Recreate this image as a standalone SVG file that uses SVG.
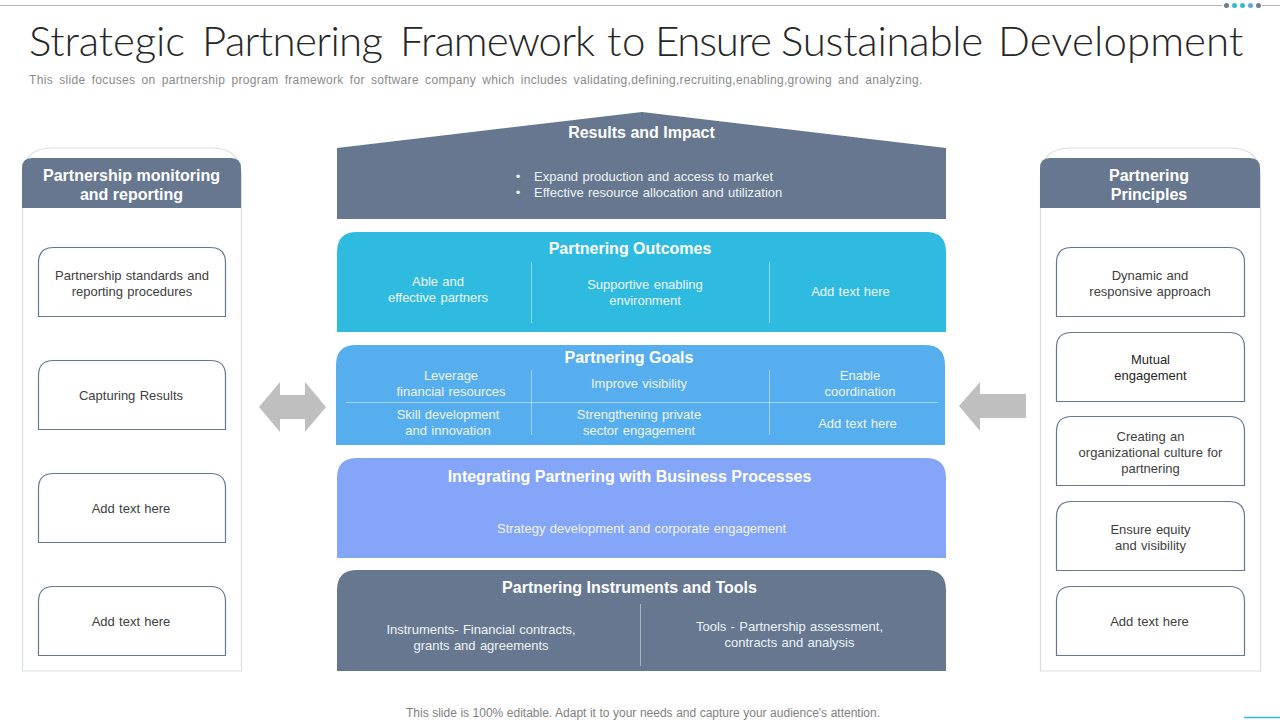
<svg xmlns="http://www.w3.org/2000/svg" width="1280" height="720" viewBox="0 0 1280 720">
<style>
text{font-family:"Liberation Sans",Arial,sans-serif;text-anchor:middle}
.title{font-family:"Lato",sans-serif;font-weight:300;font-size:42px;fill:#262626;text-anchor:start}
.sub{font-size:12px;fill:#8a8a8a;text-anchor:start;letter-spacing:.33px;word-spacing:2.500px}
.foot{font-size:12px;fill:#7f7f7f;word-spacing:.2px}
.head{font-size:16px;font-weight:bold;fill:#fff}
.w{font-size:13px;fill:#eef4fa;word-spacing:.7px}
.d{font-size:13px;fill:#404040;word-spacing:.7px}
.panel{fill:#fff;stroke:#d9dde2;stroke-width:1.2}
.hdr{fill:#66778f}
.box{fill:#fff;stroke:#66778f;stroke-width:1.2}
.sep{stroke:#fff;stroke-opacity:.45;stroke-width:1;fill:none}
.arrow{fill:#bfbfbf}
</style>
<g id="top-rule">
<path d="M0 5.500H1222M1262 5.500H1280" stroke="#b5b5b5" stroke-width="1.200" fill="none"/>
<circle cx="1226.500" cy="5.500" r="2.500" fill="#6f7d8c"/>
<circle cx="1234.500" cy="5.500" r="2.500" fill="#35b8cf"/>
<circle cx="1242.500" cy="5.500" r="2.500" fill="#35b8cf"/>
<circle cx="1250.500" cy="5.500" r="2.500" fill="#62a8dc"/>
<circle cx="1258.500" cy="5.500" r="2.500" fill="#6f7d8c"/>
</g>
<text class="title" y="56"><tspan x="29" letter-spacing="-.15">Strategic</tspan> <tspan x="202" letter-spacing="-.65">Partnering</tspan> <tspan x="400" letter-spacing="-.9">Framework</tspan> <tspan x="607" letter-spacing=".75">to</tspan> <tspan x="655" letter-spacing="-1.250">Ensure</tspan> <tspan x="781" letter-spacing="-.25">Sustainable</tspan> <tspan x="998" letter-spacing=".1">Development</tspan></text>
<text class="sub" x="29" y="84">This slide focuses on partnership program framework for software company which includes validating,defining,recruiting,enabling,growing and analyzing.</text>

<g id="panel-left">
<path class="panel" d="M22.500 671V178Q22.500 148 52.500 148H211.500Q241.500 148 241.500 178V671Z"/>
<path class="hdr" d="M22 208V168Q22 158 32 158H231Q241 158 241 168V208Z"/>
<text class="head" x="131.500" y="181">Partnership monitoring</text>
<text class="head" x="131.500" y="200">and reporting</text>
</g>
<g id="left-box-1"><path class="box" d="M38.500 316.500V262.500Q38.500 247.500 53.500 247.500H210.500Q225.500 247.500 225.500 262.500V316.500Z"/>
<text class="d" x="132" y="280">Partnership standards and</text><text class="d" x="132" y="296">reporting procedures</text></g>
<g id="left-box-2"><path class="box" d="M38.500 429.500V375.500Q38.500 360.500 53.500 360.500H210.500Q225.500 360.500 225.500 375.500V429.500Z"/>
<text class="d" x="131" y="400">Capturing Results</text></g>
<g id="left-box-3"><path class="box" d="M38.500 542.500V488.500Q38.500 473.500 53.500 473.500H210.500Q225.500 473.500 225.500 488.500V542.500Z"/>
<text class="d" x="131" y="513">Add text here</text></g>
<g id="left-box-4"><path class="box" d="M38.500 655.500V601.500Q38.500 586.500 53.500 586.500H210.500Q225.500 586.500 225.500 601.500V655.500Z"/>
<text class="d" x="131" y="626">Add text here</text></g>

<g id="panel-right">
<path class="panel" d="M1040.500 671V178Q1040.500 148 1070.500 148H1230.500Q1260.500 148 1260.500 178V671Z"/>
<path class="hdr" d="M1040 208V168Q1040 158 1050 158H1250Q1260 158 1260 168V208Z"/>
<text class="head" x="1149" y="181">Partnering</text>
<text class="head" x="1149" y="200">Principles</text>
</g>
<g id="right-box-1"><path class="box" d="M1056.500 316.500V262.500Q1056.500 247.500 1071.500 247.500H1229.500Q1244.500 247.500 1244.500 262.500V316.500Z"/>
<text class="d" x="1150" y="280">Dynamic and</text><text class="d" x="1150" y="296">responsive approach</text></g>
<g id="right-box-2"><path class="box" d="M1056.500 401.500V347.500Q1056.500 332.500 1071.500 332.500H1229.500Q1244.500 332.500 1244.500 347.500V401.500Z"/>
<text class="d" x="1150.500" y="364" style="fill:#262626">Mutual</text><text class="d" x="1150.500" y="380" style="fill:#262626">engagement</text></g>
<g id="right-box-3"><path class="box" d="M1056.500 485.500V431.500Q1056.500 416.500 1071.500 416.500H1229.500Q1244.500 416.500 1244.500 431.500V485.500Z"/>
<text class="d" x="1150.500" y="441">Creating an</text><text class="d" x="1150.500" y="457">organizational culture for</text><text class="d" x="1150.500" y="473">partnering</text></g>
<g id="right-box-4"><path class="box" d="M1056.500 570.500V516.500Q1056.500 501.500 1071.500 501.500H1229.500Q1244.500 501.500 1244.500 516.500V570.500Z"/>
<text class="d" x="1150.500" y="534">Ensure equity</text><text class="d" x="1150.500" y="550">and visibility</text></g>
<g id="right-box-5"><path class="box" d="M1056.500 655.500V601.500Q1056.500 586.500 1071.500 586.500H1229.500Q1244.500 586.500 1244.500 601.500V655.500Z"/>
<text class="d" x="1149.500" y="626">Add text here</text></g>

<g id="results">
<path fill="#66778f" d="M337 148L642 112L946 148V219H337Z"/>
<text class="head" x="641.500" y="138">Results and Impact</text>
<text class="w" x="518" y="181">•</text>
<text class="w" x="518" y="197">•</text>
<text class="w" x="534" y="181" style="text-anchor:start">Expand production and access to market</text>
<text class="w" x="534" y="197" style="text-anchor:start">Effective resource allocation and utilization</text>
</g>
<g id="outcomes">
<path fill="#2fbbe0" d="M337 332V252Q337 232 357 232H926Q946 232 946 252V332Z"/>
<text class="head" x="630" y="254">Partnering Outcomes</text>
<path class="sep" d="M531.500 262V323M769.500 262V323"/>
<text class="w" x="438" y="286">Able and</text><text class="w" x="438" y="302">effective partners</text>
<text class="w" x="645" y="289">Supportive enabling</text><text class="w" x="645" y="305">environment</text>
<text class="w" x="850.500" y="296">Add text here</text>
</g>
<g id="goals">
<path fill="#57aeee" d="M336 445V365Q336 345 356 345H925Q945 345 945 365V445Z"/>
<text class="head" x="629" y="363">Partnering Goals</text>
<path class="sep" d="M346 402.500H938M531.500 370V435M769.500 370V435"/>
<text class="w" x="451" y="380">Leverage</text><text class="w" x="451" y="396">financial resources</text>
<text class="w" x="639" y="388">Improve visibility</text>
<text class="w" x="860" y="380">Enable</text><text class="w" x="860" y="396">coordination</text>
<text class="w" x="448" y="419">Skill development</text><text class="w" x="448" y="435">and innovation</text>
<text class="w" x="639" y="419">Strengthening private</text><text class="w" x="639" y="435">sector engagement</text>
<text class="w" x="857.500" y="428">Add text here</text>
</g>
<g id="integrating">
<path fill="#85a5f8" d="M337 558V478Q337 458 357 458H926Q946 458 946 478V558Z"/>
<text class="head" x="629.500" y="482">Integrating Partnering with Business Processes</text>
<text class="w" x="641.500" y="533">Strategy development and corporate engagement</text>
</g>
<g id="instruments">
<path fill="#66778f" d="M337 671V590Q337 570 357 570H926Q946 570 946 590V671Z"/>
<text class="head" x="629.500" y="593">Partnering Instruments and Tools</text>
<path class="sep" d="M640.500 604V666"/>
<text class="w" x="481" y="634">Instruments- Financial contracts,</text><text class="w" x="481" y="650">grants and agreements</text>
<text class="w" x="789.500" y="631">Tools - Partnership assessment,</text><text class="w" x="789.500" y="647">contracts and analysis</text>
</g>
<g id="connectors">
<path class="arrow" d="M259 407L280 382V395H305V382L326 407L305 432V419H280V432Z"/>
<path class="arrow" d="M959 406L980 382V394H1026V418H980V431Z"/>
</g>
<text class="foot" x="643" y="717">This slide is 100% editable. Adapt it to your needs and capture your audience's attention.</text>
<path d="M1244 717.500H1280" stroke="#35b8cf" stroke-width="1.500" fill="none"/>
</svg>
